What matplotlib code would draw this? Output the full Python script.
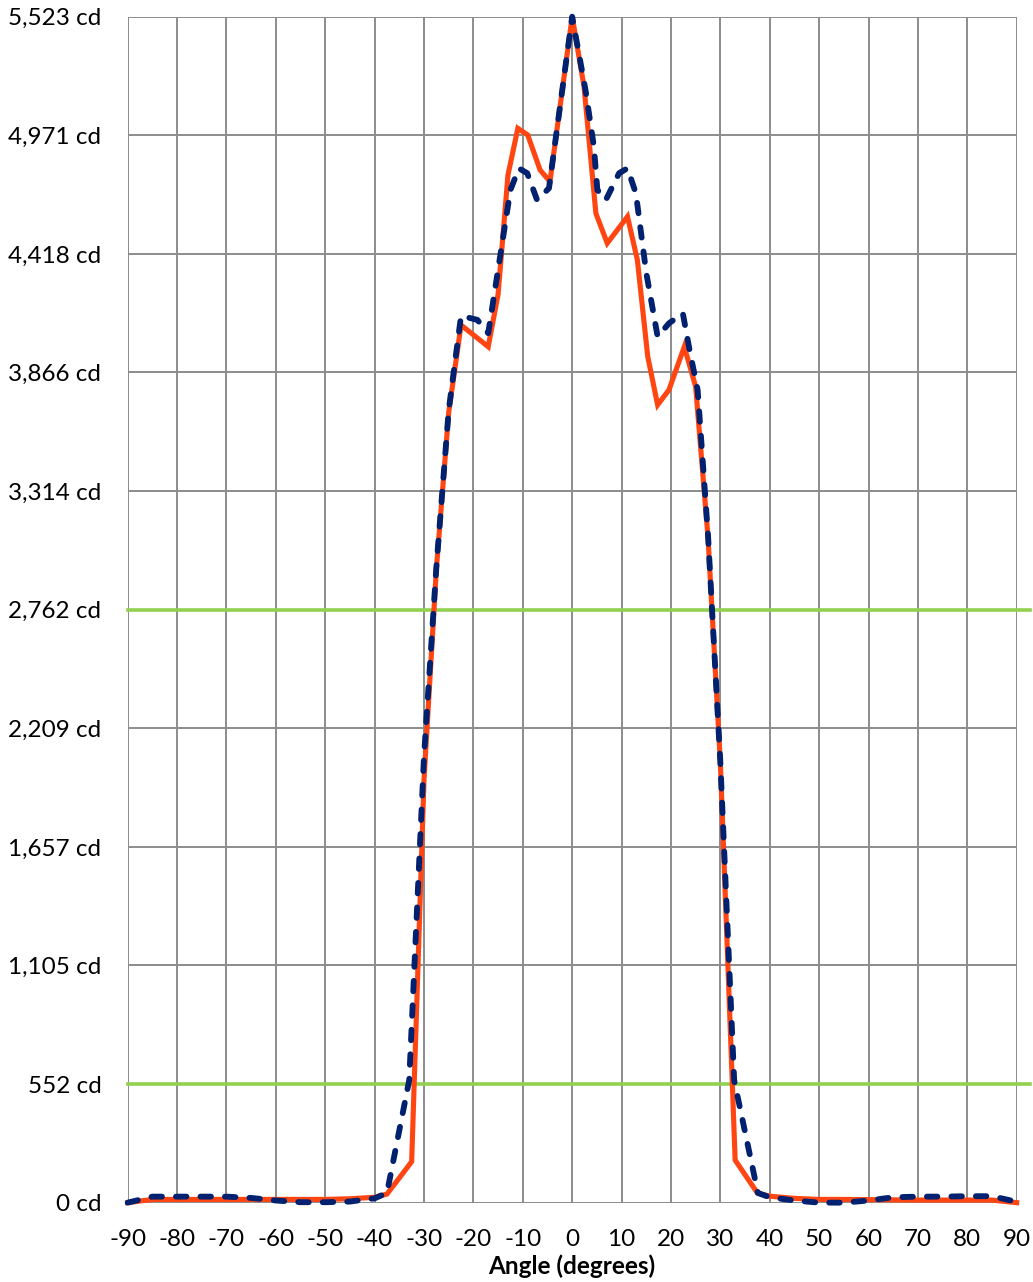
import matplotlib
matplotlib.use("Agg")
import matplotlib.pyplot as plt
import numpy as np

# ---- data ----
angle_a = [-90, -85, -80, -75, -70, -65, -60, -55, -50, -45, -40, -37.5, -35, -32.5,
           -30, -27.5, -25, -22.5, -17, -15, -13, -11, -9, -6.5, -4.5, 0,
           2.4, 4.8, 7.1, 11.2, 13.2, 15.3, 17.3, 19.6, 22.7, 25, 27.5, 30, 33,
           37.5, 40, 45, 50, 55, 60, 65, 70, 75, 80, 85, 90]
cd_a = [0, 15, 15, 15, 15, 15, 15, 15, 15, 18, 25, 40, 115, 191,
        1970, 2950, 3680, 4087, 3986, 4230, 4786, 5003, 4972, 4809, 4755, 5523,
        5197, 4607, 4468, 4592, 4390, 3940, 3715, 3785, 3986, 3800, 3100, 2050, 198,
        45, 30, 20, 15, 15, 14, 13, 12, 12, 12, 12, 0]

angle_b = [-90, -85, -80, -75, -70, -65, -60, -55, -50, -45, -40, -37.5, -33,
           -30, -27.5, -25, -22.5, -19.2, -17, -12.5, -10.8, -9.1, -7.1, -4.7, 0,
           2.7, 4.4, 5.1, 6.8, 9.5, 11.2, 12.9, 15, 17.3, 19.6, 22.4, 23.7, 25.4,
           27.5, 30, 32.8, 37.6, 40, 45, 50, 55, 60, 65, 70, 75, 80, 85, 90]
cd_b = [0, 28, 28, 28, 28, 22, 10, 2, 2, 5, 20, 45, 570,
        2080, 2960, 3690, 4130, 4111, 4049, 4716, 4817, 4794, 4669, 4724, 5523,
        5181, 4918, 4716, 4669, 4794, 4817, 4700, 4330, 4033, 4095, 4142, 3979, 3785,
        3110, 2050, 570, 45, 25, 10, 0, 0, 10, 25, 28, 28, 30, 30, 4]

max_cd = 5523
threshold_fracs = [0.1, 0.5]
x_ticks = list(range(-90, 91, 10))
n_ydiv = 10

# ---- styling ----
plt.rcParams['font.family'] = ['Lato', 'DejaVu Sans']

fig = plt.figure(figsize=(10.33, 12.82), dpi=100)
ax = fig.add_axes([0.1236, 0.0619, 0.8606, 0.9251])

y_ticks = np.linspace(0, max_cd, n_ydiv + 1)
ax.set_xlim(-90, 90)
ax.set_ylim(0, max_cd)
ax.set_xticks(x_ticks)
ax.set_xticklabels([str(t) for t in x_ticks], fontsize=17.5)
ax.set_yticks(y_ticks)
ax.set_yticklabels([f"{v:,.0f} cd" for v in y_ticks], fontsize=17.5)
ax.tick_params(axis='y', length=0, pad=19)
ax.tick_params(axis='x', length=0, pad=19)

ax.grid(True, color='#8c8c8c', linewidth=1.4)
ax.set_axisbelow(True)
for s in ax.spines.values():
    s.set_visible(False)

for f in threshold_fracs:
    ax.axhline(f * max_cd, xmin=0, xmax=1.015, color='#92D050', linewidth=2.6,
               clip_on=False, zorder=1.5)

ax.plot(angle_a, cd_a, color='#FF4612', linewidth=3.7, zorder=3,
        solid_joinstyle='miter', clip_on=False)
ax.plot(angle_b, cd_b, color='#002070', linewidth=4.2, zorder=4,
        linestyle=(0, (1.8, 2.4)), dash_capstyle='round', clip_on=False)

ax.set_xlabel("Angle (degrees)", fontsize=17.5, fontweight='bold', labelpad=3)

fig.savefig("out.png", dpi=100)
